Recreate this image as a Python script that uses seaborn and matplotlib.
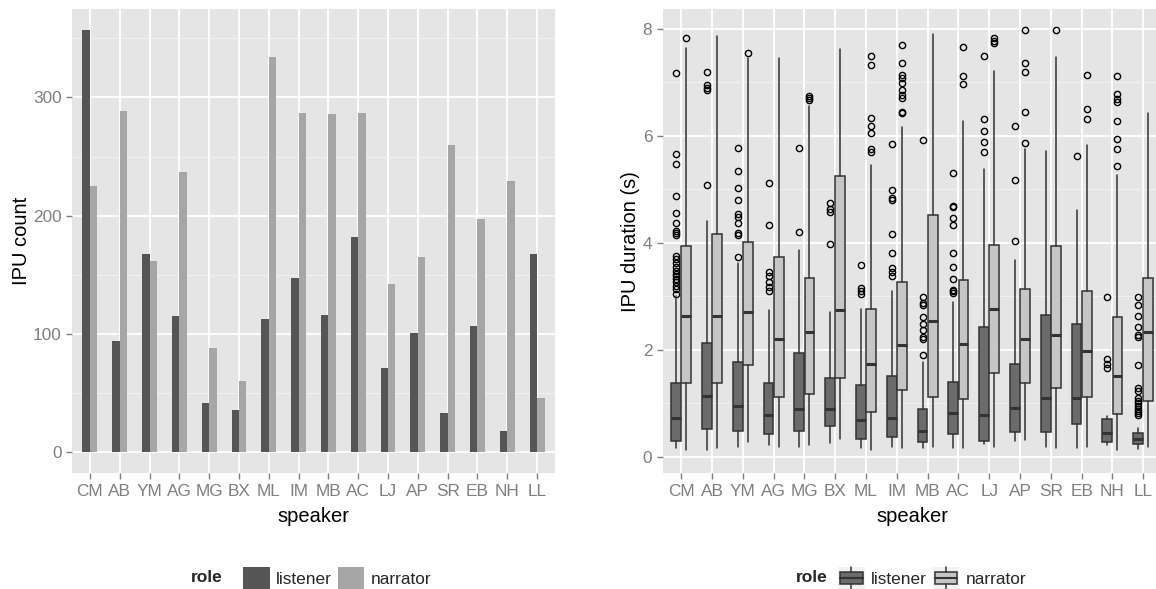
import numpy as np
import pandas as pd
import matplotlib
matplotlib.use("Agg")
import matplotlib.pyplot as plt
import seaborn as sns
from matplotlib.patches import Patch, Rectangle
from matplotlib.lines import Line2D
from matplotlib.legend_handler import HandlerBase
from matplotlib.ticker import MultipleLocator, FixedLocator

speakers = ['CM', 'AB', 'YM', 'AG', 'MG', 'BX', 'ML', 'IM',
            'MB', 'AC', 'LJ', 'AP', 'SR', 'EB', 'NH', 'LL']
roles = ['listener', 'narrator']

# IPU counts (left panel)
count_listener = [357, 94, 168, 115, 42, 36, 113, 147, 116, 182, 71, 101, 33, 107, 18, 168]
count_narrator = [225, 289, 162, 237, 88, 60, 334, 287, 286, 287, 142, 165, 260, 197, 229, 46]

# IPU durations (right panel), box summaries
lis_low = [0.17, 0.12, 0.19, 0.22, 0.19, 0.25, 0.16, 0.19, 0.16, 0.16, 0.23, 0.30, 0.19, 0.16, 0.21, 0.14]
lis_q1 = [0.30, 0.52, 0.49, 0.42, 0.49, 0.58, 0.33, 0.36, 0.27, 0.42, 0.30, 0.47, 0.47, 0.62, 0.27, 0.23]
lis_med = [0.72, 1.14, 0.94, 0.78, 0.90, 0.90, 0.69, 0.72, 0.49, 0.81, 0.78, 0.92, 1.10, 1.10, 0.44, 0.33]
lis_q3 = [1.38, 2.13, 1.78, 1.38, 1.93, 1.48, 1.35, 1.51, 0.89, 1.40, 2.42, 1.73, 2.65, 2.49, 0.70, 0.44]
lis_high = [3.00, 4.40, 3.62, 2.74, 3.87, 2.70, 2.76, 3.09, 1.78, 2.90, 5.37, 3.67, 5.72, 4.61, 0.77, 0.53]
lis_out = [
    [7.17, 5.66, 5.47, 4.88, 4.55, 4.36, 4.22, 4.18, 4.15, 3.75, 3.70, 3.62, 3.55,
     3.48, 3.42, 3.38, 3.33, 3.27, 3.20, 3.13, 3.05],
    [7.20, 6.95, 6.89, 6.86, 5.08],
    [5.77, 5.34, 5.02, 4.79, 4.54, 4.49, 4.36, 4.18, 4.15, 3.74],
    [5.11, 4.33, 3.46, 3.37, 3.27, 3.18, 3.09],
    [5.77, 4.20],
    [4.74, 4.64, 4.58, 3.97],
    [3.58, 3.15, 3.10, 3.05],
    [5.84, 4.99, 4.84, 4.80, 4.16, 3.80, 3.52, 3.46, 3.37],
    [5.92, 2.99, 2.87, 2.84, 2.61, 2.49, 2.37, 2.24, 2.21, 1.91],
    [5.31, 4.69, 4.66, 4.46, 4.33, 3.80, 3.54, 3.32, 3.12, 3.09, 3.07],
    [7.49, 6.32, 6.09, 5.89, 5.70],
    [6.19, 5.17, 4.03],
    [],
    [5.63],
    [2.99, 1.82, 1.73, 1.65],
    [2.99, 2.84, 2.64, 2.43, 2.28, 2.24, 1.71, 1.28, 1.22, 1.09, 1.05, 1.00,
     0.95, 0.90, 0.86, 0.82, 0.78],
]

nar_low = [0.12, 0.16, 0.28, 0.19, 0.22, 0.34, 0.12, 0.16, 0.19, 0.16, 0.19, 0.31, 0.16, 0.19, 0.12, 0.19]
nar_q1 = [1.37, 1.37, 1.71, 1.11, 1.18, 1.48, 0.83, 1.25, 1.11, 1.08, 1.57, 1.37, 1.28, 1.11, 0.79, 1.04]
nar_med = [2.64, 2.64, 2.71, 2.21, 2.34, 2.74, 1.73, 2.09, 2.54, 2.11, 2.77, 2.21, 2.28, 1.98, 1.50, 2.34]
nar_q3 = [3.93, 4.16, 4.02, 3.73, 3.34, 5.24, 2.76, 3.27, 4.51, 3.30, 3.96, 3.14, 3.93, 3.09, 2.62, 3.34]
nar_high = [7.65, 7.87, 7.45, 7.46, 6.55, 7.62, 5.46, 6.17, 7.90, 6.28, 7.22, 5.75, 7.48, 5.82, 5.27, 6.42]
nar_out = [
    [7.82],
    [],
    [7.55],
    [],
    [6.75, 6.70, 6.66],
    [],
    [7.50, 7.33, 6.33, 6.19, 6.06, 5.75, 5.69],
    [7.69, 7.36, 7.14, 7.08, 6.98, 6.86, 6.76, 6.70, 6.45, 6.42],
    [],
    [7.66, 7.12, 6.96],
    [7.82, 7.78, 7.74],
    [7.98, 7.36, 7.20, 6.45, 5.87],
    [7.98],
    [7.14, 6.50, 6.32],
    [7.11, 6.78, 6.68, 6.64, 6.28, 5.94, 5.75, 5.44],
    [],
]

bar_colors = {'listener': '#555555', 'narrator': '#A6A6A6'}
box_colors = {'listener': '#6B6B6B', 'narrator': '#C6C6C6'}
edge = '#333333'
tick_grey = '#7F7F7F'

sns.set_theme(style='darkgrid', rc={
    'axes.facecolor': '#E5E5E5',
    'grid.color': 'white',
    'axes.edgecolor': '#E5E5E5',
})
plt.rcParams['font.family'] = ['Liberation Sans', 'DejaVu Sans']

W, H = 1156, 589
fig = plt.figure(figsize=(W / 100, H / 100), dpi=100)
ax1 = fig.add_axes([72 / W, (H - 473.3) / H, 483 / W, 464.3 / H])
ax2 = fig.add_axes([662.7 / W, (H - 473.3) / H, 499 / W, 464.3 / H])

# left: bar chart
df = pd.DataFrame({
    'speaker': speakers * 2,
    'role': ['listener'] * len(speakers) + ['narrator'] * len(speakers),
    'count': count_listener + count_narrator,
})
sns.barplot(data=df, x='speaker', y='count', hue='role', order=speakers,
            hue_order=roles, palette=bar_colors, width=0.5, saturation=1,
            linewidth=0, ax=ax1, legend=False)
top = max(count_listener + count_narrator)
ax1.set_ylim(-0.05 * top, 1.05 * top)
ax1.yaxis.set_major_locator(FixedLocator([0, 100, 200, 300]))
ax1.yaxis.set_minor_locator(FixedLocator([50, 150, 250, 350]))
ax1.set_ylabel('IPU count')

# right: box plot built from the read summaries
stats, pos, fills = [], [], []
for i in range(len(speakers)):
    for role, off, lo, q1, md, q3, hi, out in [
            ('listener', -0.165, lis_low, lis_q1, lis_med, lis_q3, lis_high, lis_out),
            ('narrator', 0.165, nar_low, nar_q1, nar_med, nar_q3, nar_high, nar_out)]:
        stats.append(dict(whislo=lo[i], q1=q1[i], med=md[i], q3=q3[i],
                          whishi=hi[i], fliers=out[i]))
        pos.append(i + off)
        fills.append(box_colors[role])

bp = ax2.bxp(stats, positions=pos, widths=0.32, patch_artist=True,
             showcaps=False, manage_ticks=False,
             boxprops=dict(edgecolor=edge, linewidth=1.1),
             medianprops=dict(color=edge, linewidth=2.2),
             whiskerprops=dict(color=edge, linewidth=1.1),
             flierprops=dict(marker='o', markerfacecolor='none',
                             markeredgecolor='black', markersize=4.5,
                             markeredgewidth=1.0))
for patch, c in zip(bp['boxes'], fills):
    patch.set_facecolor(c)
ax2.set_ylim(-0.31, 8.37)
ax2.yaxis.set_major_locator(MultipleLocator(2))
ax2.yaxis.set_minor_locator(FixedLocator([1, 3, 5, 7]))
ax2.set_xticks(range(len(speakers)))
ax2.set_xticklabels(speakers)
ax2.set_ylabel('IPU duration (s)')

for ax in (ax1, ax2):
    ax.set_xlim(-0.6, len(speakers) - 0.4)
    ax.set_axisbelow(True)
    ax.grid(which='major', color='white', linewidth=1.3)
    ax.grid(which='minor', axis='y', color='#F2F2F2', linewidth=0.7)
    ax.grid(which='major', axis='x', color='white', linewidth=1.3)
    for s in ax.spines.values():
        s.set_visible(False)
    ax.tick_params(which='major', length=4.5, width=1, color=tick_grey,
                   labelcolor=tick_grey, labelsize=12.4, pad=3, bottom=True, left=True)
    ax.tick_params(which='minor', length=0)
    ax.set_xlabel('speaker', fontsize=14.5, color='black')
    ax.yaxis.label.set_size(14.5)
    ax.yaxis.label.set_color('black')
    ax.xaxis.set_label_coords(0.5, -0.072)

ax1.yaxis.set_label_coords((31 - 72) / 483, 0.5)
ax2.yaxis.set_label_coords((640 - 662.7) / 499, 0.5)


# legends
class BoxKey(HandlerBase):
    def __init__(self, fill):
        super().__init__()
        self.fill = fill

    def create_artists(self, legend, orig_handle, xd, yd, width, height, fontsize, trans):
        x0, y0 = -xd, -yd
        cx = x0 + width / 2
        bg = Rectangle((x0, y0), width, height, facecolor='#F2F2F2',
                       edgecolor='none', transform=trans)
        box = Rectangle((x0 + 0.08 * width, y0 + 0.22 * height), 0.84 * width,
                        0.56 * height, facecolor=self.fill, edgecolor=edge,
                        linewidth=1.1, transform=trans)
        med = Line2D([x0 + 0.08 * width, x0 + 0.92 * width], [y0 + height / 2] * 2,
                     color=edge, linewidth=1.5, transform=trans)
        w1 = Line2D([cx, cx], [y0, y0 + 0.22 * height], color=edge, lw=1.1, transform=trans)
        w2 = Line2D([cx, cx], [y0 + 0.78 * height, y0 + height], color=edge, lw=1.1, transform=trans)
        return [bg, box, med, w1, w2]


leg_y = (H - 578) / H
bar_handles = [Patch(facecolor=bar_colors[r], edgecolor='none') for r in roles]
fig.text(223 / W, leg_y, 'role', fontsize=12.4, fontweight='bold',
         ha='right', va='center')
fig.legend(bar_handles, roles, loc='center left', bbox_to_anchor=(243 / W, leg_y),
           ncol=2, frameon=False, fontsize=12.4, handlelength=1.55,
           handleheight=1.55, handletextpad=0.35, columnspacing=0.35,
           borderpad=0, borderaxespad=0)

box_handles = [Patch(facecolor=box_colors[r]) for r in roles]
fig.text(828 / W, leg_y, 'role', fontsize=12.4, fontweight='bold',
         ha='right', va='center')
fig.legend(box_handles, roles, loc='center left', bbox_to_anchor=(838 / W, leg_y),
           ncol=2, frameon=False, fontsize=12.4, handlelength=1.55,
           handleheight=1.55, handletextpad=0.35, columnspacing=0.35,
           borderpad=0, borderaxespad=0,
           handler_map={box_handles[0]: BoxKey(box_colors['listener']),
                        box_handles[1]: BoxKey(box_colors['narrator'])})

fig.savefig('out.png', dpi=100)
